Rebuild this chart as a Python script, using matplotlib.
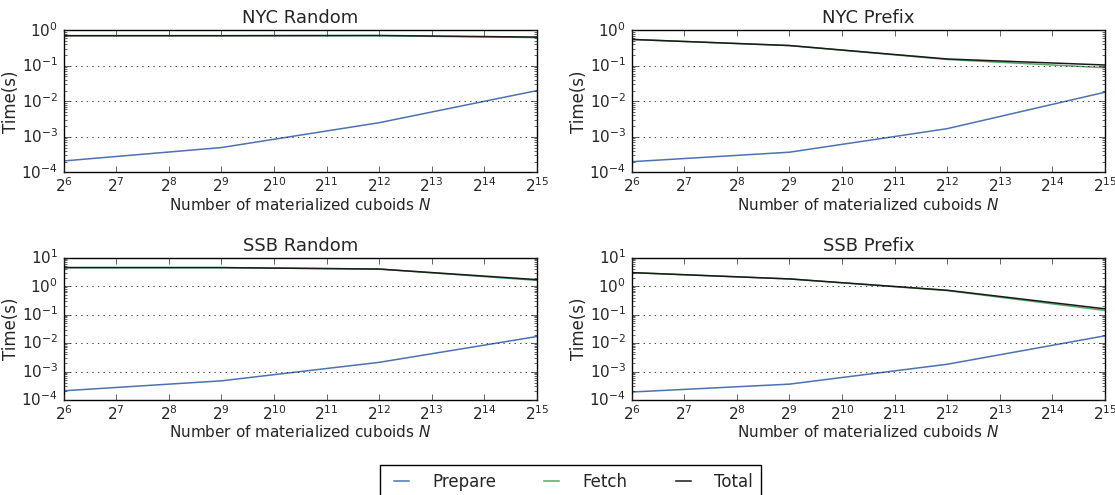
import matplotlib
matplotlib.use("Agg")
import matplotlib.pyplot as plt
import numpy as np

plt.style.use("classic")
plt.rcParams["font.family"] = ["DejaVu Sans"]
plt.rcParams["mathtext.fontset"] = "dejavusans"
plt.rcParams["text.color"] = "#262626"
plt.rcParams["axes.labelcolor"] = "#262626"
plt.rcParams["xtick.color"] = "#262626"
plt.rcParams["ytick.color"] = "#262626"

N = [2**6, 2**9, 2**12, 2**15]
titles = ["NYC Random", "NYC Prefix", "SSB Random", "SSB Prefix"]

prepare = [
    [2.1e-4, 5.0e-4, 2.5e-3, 2.0e-2],
    [2.0e-4, 3.7e-4, 1.7e-3, 1.8e-2],
    [2.1e-4, 4.7e-4, 2.1e-3, 1.7e-2],
    [1.9e-4, 3.6e-4, 1.8e-3, 1.8e-2],
]
fetch = [
    [0.70, 0.70, 0.70, 0.62],
    [0.55, 0.37, 0.15, 0.088],
    [4.5, 4.5, 4.0, 1.6],
    [3.0, 1.8, 0.70, 0.14],
]
total = [
    [0.70, 0.70, 0.71, 0.64],
    [0.55, 0.37, 0.155, 0.105],
    [4.5, 4.5, 4.0, 1.7],
    [3.0, 1.8, 0.72, 0.16],
]
ylims = [(1e-4, 1e0), (1e-4, 1e0), (1e-4, 1e1), (1e-4, 1e1)]

fig, axes = plt.subplots(2, 2, figsize=(11.15, 4.95), dpi=100, facecolor="white")
fig.subplots_adjust(left=0.057, right=0.991, top=0.939, bottom=0.192,
                    wspace=0.2, hspace=0.6)

for i, ax in enumerate(axes.flat):
    l1, = ax.plot(N, prepare[i], color="#4C72B0", lw=1.1, label="Prepare")
    l2, = ax.plot(N, fetch[i], color="#55A868", lw=1.1, label="Fetch")
    l3, = ax.plot(N, total[i], color="#1a1a1a", lw=1.1, label="Total")
    ax.set_xscale("log", base=2)
    ax.set_yscale("log")
    ax.set_xlim(2**6, 2**15)
    ax.set_ylim(*ylims[i])
    ax.set_xticks([2**k for k in range(6, 16)])
    ax.yaxis.grid(True, which="major", linestyle=":", color="black")
    ax.set_title(titles[i], fontsize=13)
    ax.set_ylabel("Time(s)", fontsize=12, labelpad=1)
    ax.set_xlabel("Number of materialized cuboids $N$", fontsize=11, labelpad=1)
    ax.tick_params(labelsize=11)
    ax.tick_params(axis="x", pad=3)

fig.legend([l1, l2, l3], ["Prepare", "Fetch", "Total"], loc="upper center",
           bbox_to_anchor=(0.512, 0.061), borderaxespad=0, ncol=3, fontsize=12,
           frameon=True, fancybox=False, columnspacing=2.6, handlelength=1.5,
           handletextpad=1.1, borderpad=0.5)

fig.savefig("out.png", dpi=100, facecolor="white")
